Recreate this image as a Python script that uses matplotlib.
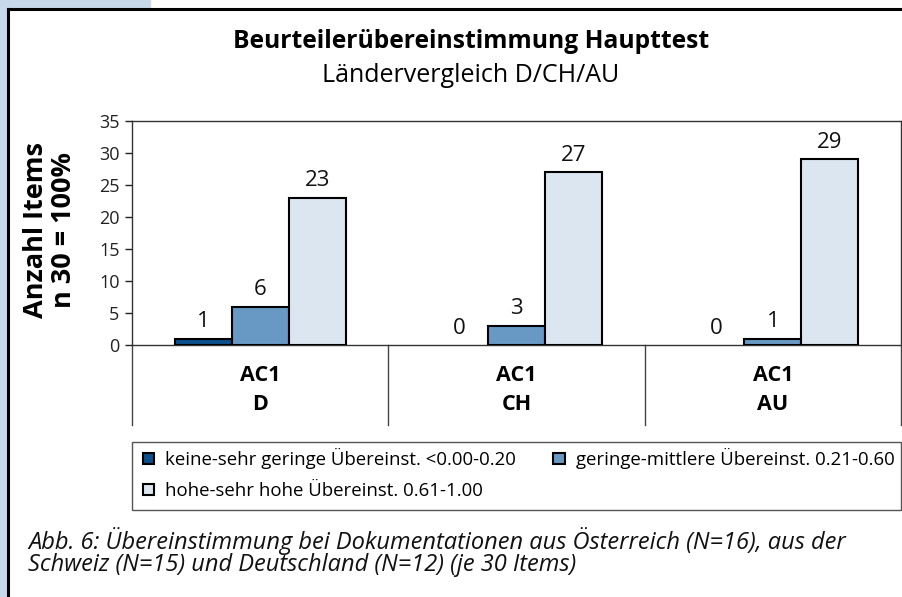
import matplotlib
matplotlib.use("Agg")
import matplotlib.pyplot as plt
from matplotlib.patches import Patch, Rectangle
from matplotlib.lines import Line2D
import matplotlib.transforms as mtransforms
import numpy as np

plt.rcParams["font.family"] = ["Open Sans", "DejaVu Sans"]

groups = ["AC1\nD", "AC1\nCH", "AC1\nAU"]
series_names = [
    "keine-sehr geringe Übereinst. <0.00-0.20",
    "geringe-mittlere Übereinst. 0.21-0.60",
    "hohe-sehr hohe Übereinst. 0.61-1.00",
]
keine = [1, 0, 0]
mittlere = [6, 3, 1]
hohe = [23, 27, 29]
colors = ["#0b4f8c", "#6899c4", "#dce6f1"]

W, H = 903, 597
fig = plt.figure(figsize=(W / 100, H / 100), dpi=100)

# page decoration: blue strips and frame
fig.patches.append(Rectangle((0, 0), 6 / W, 1, transform=fig.transFigure,
                             color="#c6d8e9", zorder=0))
fig.patches.append(Rectangle((0, 1 - 8 / H), 150 / W, 8 / H, transform=fig.transFigure,
                             color="#c6d8e9", zorder=0))
fig.add_artist(Line2D([7.5 / W, 7.5 / W], [0, 1 - 8.5 / H], transform=fig.transFigure,
                      color="black", lw=2.2))
fig.add_artist(Line2D([7.5 / W, 1], [1 - 8.5 / H, 1 - 8.5 / H], transform=fig.transFigure,
                      color="black", lw=2.2))

ax = fig.add_axes([132 / W, 1 - 345 / H, (901 - 132) / W, (345 - 121) / H])

x = np.arange(len(groups))
bw = 0.222
for i, (vals, c) in enumerate(zip([keine, mittlere, hohe], colors)):
    bars = ax.bar(x + (i - 1) * bw, vals, bw, color=c, edgecolor="black", lw=1.5,
                  label=series_names[i], zorder=3)
    for b, v in zip(bars, vals):
        if v == 0:
            b.set_visible(False)
        ax.text(b.get_x() + b.get_width() / 2, v + 1.0, str(v), ha="center", va="bottom",
                fontsize=16, color="#111111")

ax.set_xlim(-0.5, 2.5)
ax.set_ylim(0, 35)
ax.set_yticks(range(0, 36, 5))
ax.tick_params(axis="y", labelsize=13, length=5, width=1, pad=4, colors="#222222")
ax.set_xticks([])
for s in ax.spines.values():
    s.set_color("#333333")
    s.set_linewidth(1)

# category separators below axis
tr = mtransforms.blended_transform_factory(ax.transData, ax.transAxes)
for b in [-0.5, 0.5, 1.5, 2.5]:
    ax.plot([b, b], [0, -(425 - 345) / (345 - 121)], transform=tr, color="#444444",
            lw=1, clip_on=False)
for xi, g in zip(x, groups):
    ax.text(xi, -(390 - 345) / (345 - 121), g, transform=tr, ha="center", va="center",
            fontsize=15.5, fontweight="bold", linespacing=1.45)

fig.text(50 / W, 1 - 230 / H, "Anzahl Items\nn 30 = 100%", rotation=90, ha="center",
         va="center", fontsize=19.5, fontweight="bold", linespacing=1.12)

fig.text(471 / W, 1 - 41 / H, "Beurteilerübereinstimmung Haupttest", ha="center",
         va="center", fontsize=17.7, fontweight="bold")
fig.text(471 / W, 1 - 75 / H, "Ländervergleich D/CH/AU", ha="center", va="center",
         fontsize=18)

# legend: manual frame, entries ordered so that columns fill like the original
fig.patches.append(Rectangle((132 / W, 1 - 510 / H), (901 - 132) / W, (510 - 442) / H,
                             transform=fig.transFigure, fill=False,
                             edgecolor="#555555", lw=1))
handles = [Patch(facecolor=c, edgecolor="black", lw=1.5) for c in colors]
order = [0, 2, 1]
leg = fig.legend([handles[k] for k in order], [series_names[k] for k in order],
                 ncol=2, loc="upper left", bbox_to_anchor=(143 / W, 1 - 448 / H),
                 fontsize=13.4, frameon=False, handlelength=0.6, handleheight=0.6,
                 handletextpad=0.6, columnspacing=2.0, borderpad=0, borderaxespad=0,
                 labelspacing=0.7)

fig.text(28 / W, 1 - 552 / H,
         "Abb. 6: Übereinstimmung bei Dokumentationen aus Österreich (N=16), aus der\n"
         "Schweiz (N=15) und Deutschland (N=12) (je 30 Items)",
         ha="left", va="center", fontsize=17, style="italic", linespacing=0.92,
         color="#111111")

fig.savefig("out.png", dpi=100)
